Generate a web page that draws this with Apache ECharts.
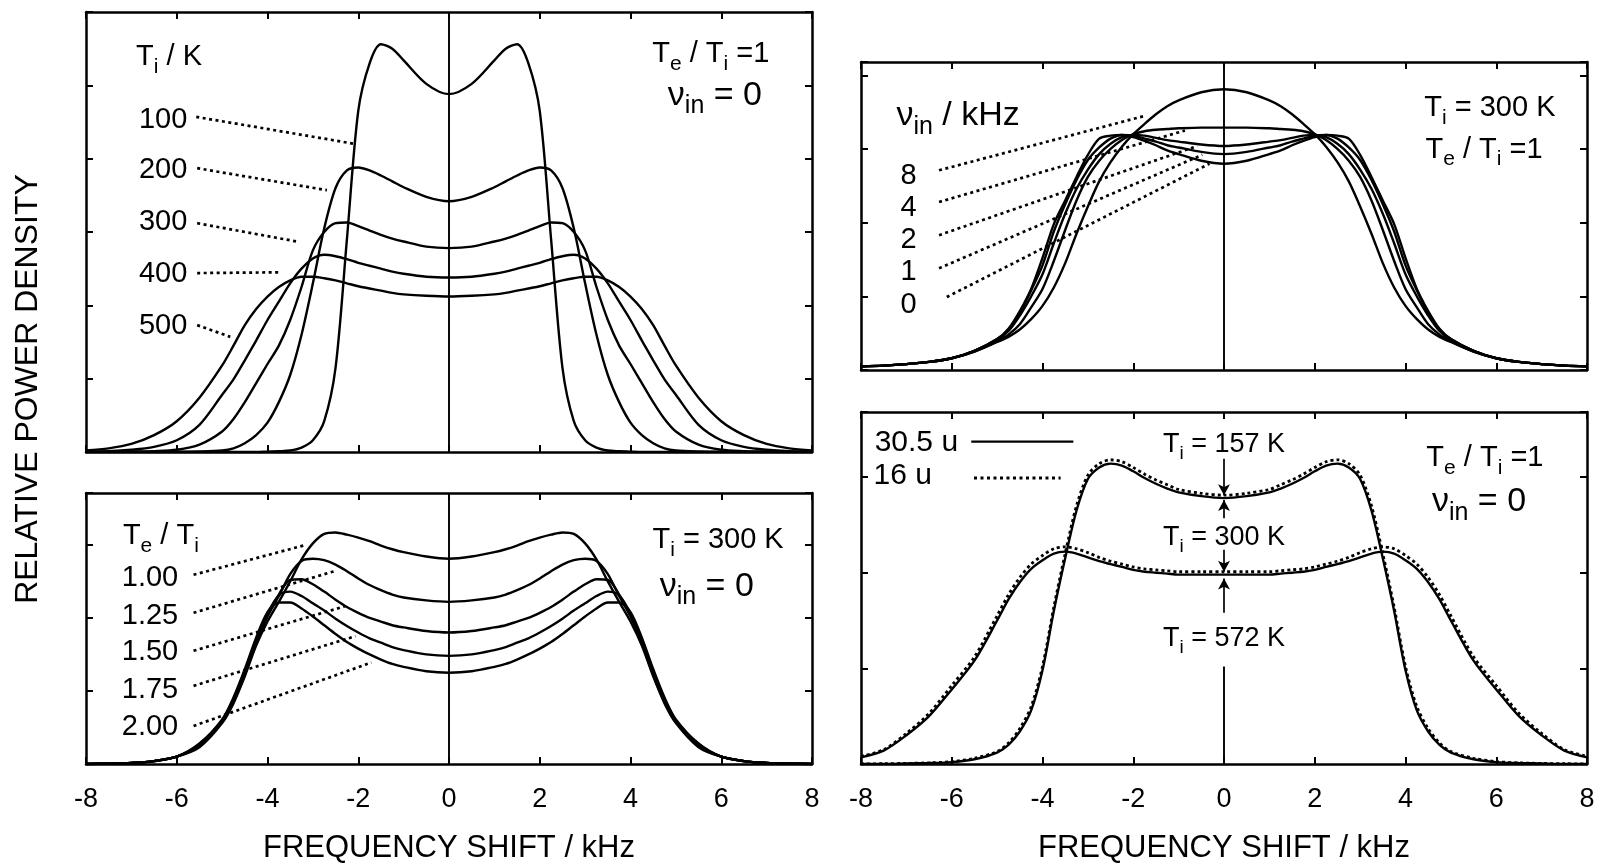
<!DOCTYPE html>
<html><head><meta charset="utf-8">
<script src="https://cdn.jsdelivr.net/npm/echarts@6/dist/echarts.min.js"></script>
<style>html,body{margin:0;padding:0;background:#fff}#c{width:1598px;height:865px}</style>
</head><body><div id="c"></div>
<script>
// ---------- data ----------
const freq = [-8,-7.5,-7,-6.5,-6,-5.5,-5,-4.75,-4.5,-4.25,-4,-3.75,-3.5,-3.25,-3,-2.75,-2.5,-2.25,-2,-1.75,-1.5,-1.25,-1,-0.5,0,0.5,1,1.25,1.5,1.75,2,2.25,2.5,2.75,3,3.25,3.5,3.75,4,4.25,4.5,4.75,5,5.5,6,6.5,7,7.5,8];

// top-left: T_i / K
const tlLabels = ['100','200','300','400','500'];
const tlT100 = [0,0,0,0,0,0,0,0,0,0,0.005,0.01,0.02,0.06,0.16,0.42,1.15,2.9,4.65,5.3,5.56,5.5,5.34,5.02,4.88,5.02,5.34,5.5,5.56,5.3,4.65,2.9,1.15,0.42,0.16,0.06,0.02,0.01,0.005,0,0,0,0,0,0,0,0,0,0];
const tlT200 = [0,0,0,0,0.003,0.006,0.02,0.05,0.12,0.23,0.4,0.68,1.05,1.6,2.3,3.05,3.6,3.84,3.88,3.84,3.77,3.69,3.61,3.48,3.42,3.48,3.61,3.69,3.77,3.84,3.88,3.84,3.6,3.05,2.3,1.6,1.05,0.68,0.4,0.23,0.12,0.05,0.02,0.006,0.003,0,0,0,0];
const tlT300 = [0,0.003,0.006,0.012,0.03,0.1,0.28,0.45,0.68,0.94,1.2,1.45,1.8,2.25,2.75,3.0,3.12,3.13,3.08,3.02,2.96,2.91,2.87,2.8,2.78,2.8,2.87,2.91,2.96,3.02,3.08,3.13,3.12,3.0,2.75,2.25,1.8,1.45,1.2,0.94,0.68,0.45,0.28,0.1,0.03,0.012,0.006,0.003,0];
const tlT400 = [0.005,0.01,0.03,0.07,0.16,0.37,0.78,0.99,1.25,1.52,1.8,2.05,2.3,2.5,2.64,2.69,2.67,2.63,2.58,2.54,2.5,2.46,2.43,2.39,2.38,2.39,2.43,2.46,2.5,2.54,2.58,2.63,2.67,2.69,2.64,2.5,2.3,2.05,1.8,1.52,1.25,0.99,0.78,0.37,0.16,0.07,0.03,0.01,0.005];
const tlT500 = [0.02,0.05,0.11,0.23,0.42,0.74,1.18,1.45,1.73,1.95,2.12,2.25,2.34,2.39,2.39,2.37,2.34,2.3,2.26,2.23,2.2,2.17,2.15,2.13,2.12,2.13,2.15,2.17,2.2,2.23,2.26,2.3,2.34,2.37,2.39,2.39,2.34,2.25,2.12,1.95,1.73,1.45,1.18,0.74,0.42,0.23,0.11,0.05,0.02];

// bottom-left: T_e / T_i
const blLabels = ['1.00','1.25','1.50','1.75','2.00'];
const bl100 = [0,0.005,0.015,0.04,0.1,0.23,0.56,0.83,1.2,1.62,1.95,2.22,2.5,2.8,3.02,3.15,3.17,3.14,3.1,3.05,2.99,2.94,2.9,2.84,2.81,2.84,2.9,2.94,2.99,3.05,3.1,3.14,3.17,3.15,3.02,2.8,2.5,2.22,1.95,1.62,1.2,0.83,0.56,0.23,0.1,0.04,0.015,0.005,0];
const bl125 = [0,0.005,0.015,0.04,0.1,0.25,0.58,0.85,1.22,1.66,2.02,2.3,2.6,2.78,2.81,2.79,2.73,2.64,2.54,2.45,2.38,2.32,2.28,2.24,2.22,2.24,2.28,2.32,2.38,2.45,2.54,2.64,2.73,2.79,2.81,2.78,2.6,2.3,2.02,1.66,1.22,0.85,0.58,0.25,0.1,0.04,0.015,0.005,0];
const bl150 = [0,0.005,0.015,0.04,0.1,0.26,0.59,0.87,1.25,1.68,2.04,2.32,2.52,2.53,2.46,2.36,2.25,2.15,2.07,2.0,1.95,1.9,1.87,1.82,1.8,1.82,1.87,1.9,1.95,2.0,2.07,2.15,2.25,2.36,2.46,2.53,2.52,2.32,2.04,1.68,1.25,0.87,0.59,0.26,0.1,0.04,0.015,0.005,0];
const bl175 = [0,0.005,0.015,0.04,0.1,0.27,0.6,0.89,1.27,1.7,2.06,2.31,2.36,2.3,2.2,2.1,1.99,1.89,1.8,1.72,1.66,1.6,1.56,1.5,1.48,1.5,1.56,1.6,1.66,1.72,1.8,1.89,1.99,2.1,2.2,2.3,2.36,2.31,2.06,1.7,1.27,0.89,0.6,0.27,0.1,0.04,0.015,0.005,0];
const bl200 = [0,0.005,0.015,0.04,0.1,0.28,0.61,0.91,1.3,1.73,2.08,2.21,2.21,2.13,2.02,1.9,1.78,1.67,1.58,1.5,1.43,1.37,1.33,1.27,1.25,1.27,1.33,1.37,1.43,1.5,1.58,1.67,1.78,1.9,2.02,2.13,2.21,2.21,2.08,1.73,1.3,0.91,0.61,0.28,0.1,0.04,0.015,0.005,0];

// top-right: nu_in / kHz
const trLabels = ['8','4','2','1','0'];
const trNu8 = [0.05,0.06,0.08,0.11,0.16,0.25,0.38,0.45,0.55,0.69,0.87,1.12,1.45,1.85,2.22,2.56,2.82,3.03,3.2,3.34,3.47,3.58,3.66,3.77,3.81,3.77,3.66,3.58,3.47,3.34,3.2,3.03,2.82,2.56,2.22,1.85,1.45,1.12,0.87,0.69,0.55,0.45,0.38,0.25,0.16,0.11,0.08,0.06,0.05];
const trNu4 = [0.05,0.06,0.08,0.11,0.16,0.25,0.39,0.48,0.62,0.85,1.1,1.48,1.9,2.3,2.62,2.84,3.0,3.12,3.2,3.24,3.26,3.27,3.28,3.29,3.29,3.29,3.28,3.27,3.26,3.24,3.2,3.12,3.0,2.84,2.62,2.3,1.9,1.48,1.1,0.85,0.62,0.48,0.39,0.25,0.16,0.11,0.08,0.06,0.05];
const trNu2 = [0.05,0.06,0.08,0.11,0.16,0.26,0.41,0.53,0.74,1.0,1.3,1.72,2.12,2.46,2.72,2.93,3.07,3.16,3.19,3.18,3.15,3.12,3.1,3.06,3.04,3.06,3.1,3.12,3.15,3.18,3.19,3.16,3.07,2.93,2.72,2.46,2.12,1.72,1.3,1.0,0.74,0.53,0.41,0.26,0.16,0.11,0.08,0.06,0.05];
const trNu1 = [0.05,0.06,0.08,0.11,0.16,0.26,0.42,0.55,0.78,1.08,1.42,1.88,2.25,2.58,2.85,3.02,3.14,3.19,3.18,3.14,3.1,3.05,3.02,2.96,2.93,2.96,3.02,3.05,3.1,3.14,3.18,3.19,3.14,3.02,2.85,2.58,2.25,1.88,1.42,1.08,0.78,0.55,0.42,0.26,0.16,0.11,0.08,0.06,0.05];
const trNu0 = [0.05,0.06,0.08,0.11,0.16,0.26,0.42,0.56,0.8,1.1,1.52,1.98,2.3,2.62,2.92,3.14,3.18,3.19,3.16,3.11,3.05,2.98,2.93,2.84,2.8,2.84,2.93,2.98,3.05,3.11,3.16,3.19,3.18,3.14,2.92,2.62,2.3,1.98,1.52,1.1,0.8,0.56,0.42,0.26,0.16,0.11,0.08,0.06,0.05];

// bottom-right: 30.5 u (solid) and 16 u (dotted)
const brNames = ['30.5 u','16 u'];
const brSolidHi = [0,0,0.005,0.01,0.02,0.05,0.12,0.2,0.34,0.56,0.98,1.6,2.15,2.65,2.98,3.1,3.14,3.12,3.06,2.99,2.93,2.88,2.84,2.8,2.78,2.8,2.84,2.88,2.93,2.99,3.06,3.12,3.14,3.1,2.98,2.65,2.15,1.6,0.98,0.56,0.34,0.2,0.12,0.05,0.02,0.01,0.005,0,0];
const brDotHi = [0,0.003,0.006,0.012,0.025,0.06,0.13,0.22,0.37,0.6,1.02,1.64,2.2,2.7,3.02,3.14,3.18,3.16,3.1,3.03,2.97,2.92,2.87,2.83,2.81,2.83,2.87,2.92,2.97,3.03,3.1,3.16,3.18,3.14,3.02,2.7,2.2,1.64,1.02,0.6,0.37,0.22,0.13,0.06,0.025,0.012,0.006,0.003,0];
const brSolidLo = [0.07,0.14,0.3,0.5,0.78,1.08,1.5,1.72,1.9,2.04,2.13,2.2,2.22,2.2,2.16,2.12,2.09,2.06,2.03,2.01,2.0,1.99,1.98,1.98,1.98,1.98,1.98,1.99,2.0,2.01,2.03,2.06,2.09,2.12,2.16,2.2,2.22,2.2,2.13,2.04,1.9,1.72,1.5,1.08,0.78,0.5,0.3,0.14,0.07];
const brDotLo = [0.08,0.15,0.32,0.53,0.82,1.12,1.55,1.77,1.95,2.09,2.18,2.25,2.27,2.25,2.21,2.16,2.12,2.09,2.06,2.04,2.03,2.02,2.01,2.01,2.01,2.01,2.01,2.02,2.03,2.04,2.06,2.09,2.12,2.16,2.21,2.25,2.27,2.25,2.18,2.09,1.95,1.77,1.55,1.12,0.82,0.53,0.32,0.15,0.08];
const brTemps = ['157','300','572'];

// ---------- annotation anchors (data units of each panel) ----------
const tlLeaders = [[-5.57,4.57,-2.06,4.2],[-5.55,3.87,-2.69,3.57],[-5.55,3.12,-3.35,2.87],[-5.55,2.44,-3.72,2.45],[-5.55,1.73,-4.82,1.57]];
const blLeaders = [[-5.63,2.59,-3.21,2.99],[-5.63,2.07,-2.52,2.64],[-5.63,1.55,-2.29,2.16],[-5.63,1.07,-2.06,1.75],[-5.63,0.52,-1.71,1.39]];
const trLeaders = [[-6.28,2.71,-1.74,3.45],[-6.28,2.28,-0.86,3.25],[-6.28,1.83,-0.59,3.04],[-6.28,1.38,-0.48,2.92],[-6.11,0.99,-0.32,2.8]];
const brLegendLines = [[-5.57,3.37,-3.32,3.37],[-5.51,2.99,-3.6,2.99]];
const brArrows = [[0,3.19,0,2.81],[0,2.57,0,2.76],[0,2.24,0,2.01],[0,1.58,0,1.94]];
const brStem = [0,0,0,1.02];

// ---------- chart ----------
const FONT = '"Liberation Sans", Arial, Helvetica, sans-serif';
const INK = '#000';
const chart = echarts.init(document.getElementById('c'), null, {renderer:'canvas'});
const pts = v => freq.map((f,i)=>[f,v[i]]);

const grids = [
  {left:86, top:12, width:726, height:440},
  {left:86, top:493, width:726, height:272},
  {left:861, top:62, width:726, height:308},
  {left:861, top:412, width:726, height:353}
];
const yMax = [6, 3.71, 4.18, 3.68];

const RICH = {
  t:{fontSize:29, lineHeight:31, fontFamily:FONT, color:INK},
  s:{fontSize:21, lineHeight:21, padding:[20,0,0,0], fontFamily:FONT, color:INK},
  n:{fontSize:34, lineHeight:36, fontFamily:FONT, color:INK},
  m:{fontSize:25, lineHeight:25, padding:[22,0,0,0], fontFamily:FONT, color:INK},
  u:{fontSize:27, lineHeight:29, fontFamily:FONT, color:INK},
  v:{fontSize:19, lineHeight:19, padding:[19,0,0,0], fontFamily:FONT, color:INK},
  w:{fontSize:30, lineHeight:32, fontFamily:FONT, color:INK}
};

const xAxis = [], yAxis = [];
grids.forEach((g,i)=>{
  const lab = (i===1 || i===3);
  const common = {type:'value', gridIndex:i, min:-8, max:8, interval:2,
    axisLine:{show:true, onZero:false, lineStyle:{color:INK, width:2.5}},
    axisTick:{show:true, inside:true, length:7, lineStyle:{color:INK, width:2}},
    splitLine:{show:false}};
  xAxis.push(Object.assign({}, common, {position:'bottom',
    axisLabel:{show:lab, color:INK, fontSize:27, fontFamily:FONT, margin:22, formatter:v=>String(v)},
    name: lab ? 'FREQUENCY SHIFT / kHz' : '', nameLocation:'middle', nameGap:69,
    nameTextStyle:{fontSize:31, color:INK, fontFamily:FONT}}));
  xAxis.push(Object.assign({}, common, {position:'top', axisLabel:{show:false}}));
  const yc = {type:'value', gridIndex:i, min:0, max:yMax[i], interval:1,
    axisLine:{show:true, onZero:false, lineStyle:{color:INK, width:2.5}},
    axisTick:{show:true, inside:true, length:7, lineStyle:{color:INK, width:2}},
    splitLine:{show:false}, axisLabel:{show:false}};
  yAxis.push(Object.assign({}, yc, {position:'left'}));
  yAxis.push(Object.assign({}, yc, {position:'right'}));
});

const series = [];
function curve(gi, vals, dotted, name){
  series.push({type:'line', name:name||'', xAxisIndex:2*gi, yAxisIndex:2*gi, data:pts(vals),
    showSymbol:false, smooth:0.3, silent:true, z:3,
    lineStyle:{color:INK, width:dotted?2.8:2.4, type:dotted?[3,3]:'solid'}});
}
function seg(gi, s, dotted, w){
  series.push({type:'line', xAxisIndex:2*gi, yAxisIndex:2*gi, data:[[s[0],s[1]],[s[2],s[3]]],
    showSymbol:false, silent:true, z:2,
    lineStyle:{color:INK, width:w||2.7, type:dotted?[3,3.5]:'solid'}});
}
function zeroLine(gi){
  series.push({type:'line', xAxisIndex:2*gi, yAxisIndex:2*gi, data:[], silent:true,
    markLine:{silent:true, symbol:'none', label:{show:false}, animation:false,
      lineStyle:{color:INK, width:1.9, type:'solid'}, data:[{xAxis:0}]}});
}
function notes(gi, items){
  series.push({type:'scatter', xAxisIndex:2*gi, yAxisIndex:2*gi, symbolSize:1, silent:true, z:6,
    itemStyle:{color:'rgba(255,255,255,0)', opacity:1},
    data: items.map(it=>({value:[it[0],it[1]],
      itemStyle:{opacity:1},
      label:{show:true, position:'inside', formatter:it[2], rich:RICH, color:INK, opacity:1,
        fontFamily:FONT, fontSize:29, textBorderWidth:0}}))});
}

// TL
[tlT100,tlT200,tlT300,tlT400,tlT500].forEach((v,k)=>curve(0,v,false,tlLabels[k]));
zeroLine(0);
tlLeaders.forEach(s=>seg(0,s,true));
notes(0, [
  [-6.17,5.38,'{t|T}{s|i}{t| / K}'],
  ...tlLabels.map((l,k)=>[-6.3,[4.53,3.84,3.13,2.43,1.72][k],'{t|'+l+'}']),
  [5.77,5.43,'{t|T}{s|e}{t| / T}{s|i}{t| =1}'],
  [5.86,4.86,'{n|ν}{m|in}{n| = 0}']
]);

// BL
[bl100,bl125,bl150,bl175,bl200].forEach((v,k)=>curve(1,v,false,blLabels[k]));
zeroLine(1);
blLeaders.forEach(s=>seg(1,s,true));
notes(1, [
  [-6.35,3.12,'{t|T}{s|e}{t| / T}{s|i}'],
  ...blLabels.map((l,k)=>[-6.59,[2.54,2.02,1.53,1.01,0.5][k],'{t|'+l+'}']),
  [5.93,3.07,'{t|T}{s|i}{t| = 300 K}'],
  [5.68,2.43,'{n|ν}{m|in}{n| = 0}']
]);

// TR
[trNu8,trNu4,trNu2,trNu1,trNu0].forEach((v,k)=>curve(2,v,false,trLabels[k]));
zeroLine(2);
trLeaders.forEach(s=>seg(2,s,true));
notes(2, [
  [-5.86,3.45,'{n|ν}{m|in}{n| / kHz}'],
  ...trLabels.map((l,k)=>[-6.95,[2.63,2.2,1.76,1.33,0.88][k],'{t|'+l+'}']),
  [5.86,3.55,'{t|T}{s|i}{t| = 300 K}'],
  [5.73,2.99,'{t|T}{s|e}{t| / T}{s|i}{t| =1}']
]);

// BR
curve(3,brSolidHi,false,brNames[0]);
curve(3,brDotHi,true,brNames[1]);
curve(3,brSolidLo,false,brNames[0]);
curve(3,brDotLo,true,brNames[1]);
seg(3,brLegendLines[0],false,2.4);
seg(3,brLegendLines[1],true,2.8);
seg(3,brStem,false,1.9);
series.push({type:'line', xAxisIndex:6, yAxisIndex:6, data:[], silent:true,
  markLine:{silent:true, animation:false, symbol:['none','arrow'], symbolSize:[9,11], label:{show:false},
    lineStyle:{color:INK, width:1.7, type:'solid'},
    data: brArrows.map(a=>[{coord:[a[0],a[1]]},{coord:[a[2],a[3]]}])}});
notes(3, [
  [-6.78,3.36,'{w|'+brNames[0]+'}'],
  [-7.08,3.01,'{w|'+brNames[1]+'}'],
  [0,3.34,'{u|T}{v|i}{u| = '+brTemps[0]+' K}'],
  [0,2.37,'{u|T}{v|i}{u| = '+brTemps[1]+' K}'],
  [0,1.31,'{u|T}{v|i}{u| = '+brTemps[2]+' K}'],
  [5.75,3.2,'{t|T}{s|e}{t| / T}{s|i}{t| =1}'],
  [5.62,2.74,'{n|ν}{m|in}{n| = 0}']
]);

chart.setOption({
  animation:false,
  backgroundColor:'#fff',
  grid: grids,
  xAxis, yAxis, series,
  graphic:[{type:'text', x:28, y:389, rotation:Math.PI/2,
    style:{text:'RELATIVE POWER DENSITY', fontSize:32, fontFamily:FONT, fill:INK, align:'center', verticalAlign:'middle'}}]
});
</script></body></html>
